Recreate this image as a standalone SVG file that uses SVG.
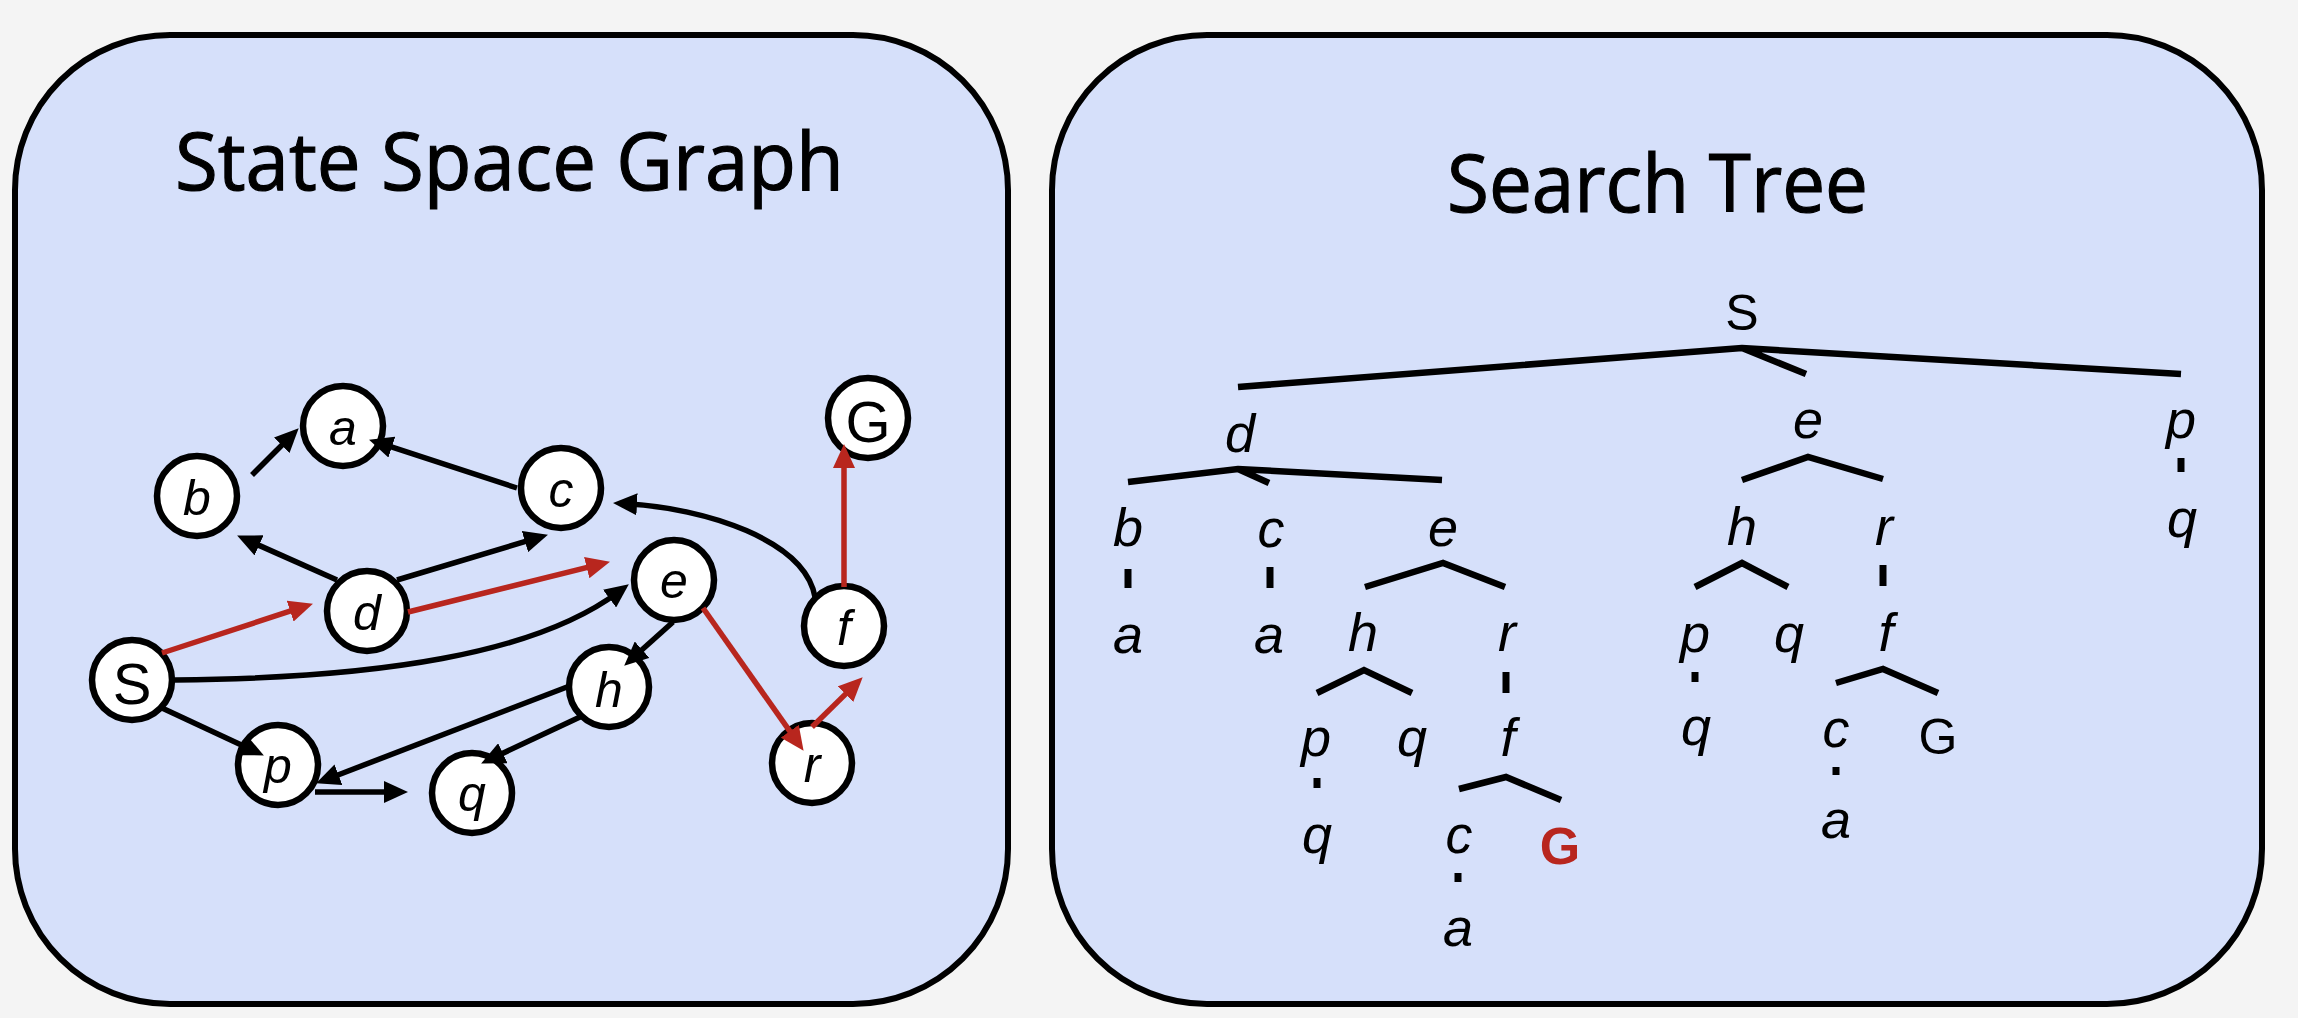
<svg xmlns="http://www.w3.org/2000/svg" width="2298" height="1018" viewBox="0 0 2298 1018">
<style>
.panel{fill:#D6E0FA;stroke:#000;stroke-width:6}
.title{font-family:"Open Sans","Liberation Sans",sans-serif;font-size:80px;fill:#000;stroke:#000;stroke-width:1.2}
.node circle{fill:#fff;stroke:#000;stroke-width:6.5}
.lbl{font-family:"Liberation Sans",Arial,sans-serif;font-style:italic;font-size:50px;text-anchor:middle;fill:#000}
.cap{font-family:"Liberation Sans",Arial,sans-serif;font-size:58px;text-anchor:middle;fill:#000}
.edge{fill:none;stroke:#000;stroke-width:5.5}
.red{stroke:#B8261E}
.t{font-family:"Liberation Sans",Arial,sans-serif;font-style:italic;font-size:54px;text-anchor:middle;fill:#000}
.tu{font-family:"Liberation Sans",Arial,sans-serif;font-size:50px;text-anchor:middle;fill:#000}
.tg{font-family:"Liberation Sans",Arial,sans-serif;font-weight:bold;font-size:52px;text-anchor:middle;fill:#B8261E}
.tl{stroke:#000;stroke-width:6.5;fill:none}
.tick{fill:#000}
</style>
<defs>
<marker id="ah" viewBox="0 0 24 22" refX="11" refY="11" markerWidth="24" markerHeight="22" markerUnits="userSpaceOnUse" orient="auto">
<path d="M0,0 L24,11 L0,22 z" fill="#000"/>
</marker>
<marker id="ahr" viewBox="0 0 24 22" refX="11" refY="11" markerWidth="24" markerHeight="22" markerUnits="userSpaceOnUse" orient="auto">
<path d="M0,0 L24,11 L0,22 z" fill="#B8261E"/>
</marker>
</defs>
<rect x="0" y="0" width="2298" height="1018" fill="#F4F4F4"/>
<g id="panel-graph">
<rect class="panel" x="15" y="35" width="993" height="969" rx="155" ry="155"/>
<text class="title" x="175" y="190" textLength="669" lengthAdjust="spacingAndGlyphs">State Space Graph</text>
</g>
<g id="panel-tree">
<rect class="panel" x="1052" y="35" width="1210" height="969" rx="155" ry="155"/>
<text class="title" x="1447" y="212" textLength="421" lengthAdjust="spacingAndGlyphs">Search Tree</text>
</g>
<g id="graph-nodes">
<g id="n-a" class="node"><circle cx="343" cy="426" r="40"/><text class="lbl" x="343" y="445">a</text></g>
<g id="n-b" class="node"><circle cx="197" cy="496" r="40"/><text class="lbl" x="197" y="515">b</text></g>
<g id="n-c" class="node"><circle cx="561" cy="488" r="40"/><text class="lbl" x="561" y="507">c</text></g>
<g id="n-d" class="node"><circle cx="367" cy="611" r="40"/><text class="lbl" x="367" y="630">d</text></g>
<g id="n-e" class="node"><circle cx="674" cy="580" r="40"/><text class="lbl" x="674" y="598">e</text></g>
<g id="n-S" class="node"><circle cx="132" cy="680" r="40"/><text class="cap" x="132" y="704">S</text></g>
<g id="n-h" class="node"><circle cx="609" cy="687" r="40"/><text class="lbl" x="609" y="707">h</text></g>
<g id="n-p" class="node"><circle cx="278" cy="765" r="40"/><text class="lbl" x="278" y="783">p</text></g>
<g id="n-q" class="node"><circle cx="472" cy="793" r="40"/><text class="lbl" x="472" y="811">q</text></g>
<g id="n-r" class="node"><circle cx="812" cy="763" r="40"/><text class="lbl" x="812" y="782">r</text></g>
<g id="n-f" class="node"><circle cx="844" cy="626" r="40"/><text class="lbl" x="844" y="645">f</text></g>
<g id="n-G" class="node"><circle cx="868" cy="418" r="40"/><text class="cap" x="868" y="442">G</text></g>
</g>
<g id="graph-edges">
<line class="edge" x1="252" y1="475" x2="289.5" y2="437.5" marker-end="url(#ah)"/>
<line class="edge" x1="517" y1="488" x2="381.4" y2="443.7" marker-end="url(#ah)"/>
<line class="edge" x1="337" y1="580" x2="249" y2="540.9" marker-end="url(#ah)"/>
<line class="edge" x1="397" y1="580" x2="535.5" y2="538.4" marker-end="url(#ah)"/>
<line class="edge red" x1="162" y1="653" x2="300.6" y2="607.7" marker-end="url(#ahr)"/>
<line class="edge red" x1="408" y1="612" x2="597.4" y2="564.9" marker-end="url(#ahr)"/>
<line class="edge" x1="162" y1="708" x2="252.1" y2="749.9" marker-end="url(#ah)"/>
<line class="edge" x1="315" y1="792" x2="395" y2="792" marker-end="url(#ah)"/>
<line class="edge" x1="567" y1="687" x2="328.2" y2="778.7" marker-end="url(#ah)"/>
<line class="edge" x1="580" y1="717" x2="492.9" y2="757.9" marker-end="url(#ah)"/>
<line class="edge" x1="673" y1="622" x2="633.9" y2="657" marker-end="url(#ah)"/>
<line class="edge red" x1="703" y1="608" x2="796.1" y2="740.2" marker-end="url(#ahr)"/>
<line class="edge red" x1="812" y1="727" x2="853.4" y2="686.4" marker-end="url(#ahr)"/>
<line class="edge red" x1="844" y1="587" x2="844" y2="457" marker-end="url(#ahr)"/>
<path class="edge" d="M175,680 C380,678 535,654 618.4,592.1" marker-end="url(#ah)"/>
<path class="edge" d="M815,597 C805,540 705,508 626,503.7" marker-end="url(#ah)"/>
</g>
<g id="tree-nodes">
<g id="t-S"><text class="tu" x="1742" y="330">S</text></g>
<g id="t-d"><text class="t" x="1240" y="452">d</text></g>
<g id="t-e1"><text class="t" x="1808" y="438">e</text></g>
<g id="t-p1"><text class="t" x="2181" y="438">p</text></g>
<g id="t-q1"><text class="t" x="2182" y="537">q</text></g>
<g id="t-b"><text class="t" x="1128" y="546">b</text></g>
<g id="t-c1"><text class="t" x="1271" y="547">c</text></g>
<g id="t-e2"><text class="t" x="1443" y="546">e</text></g>
<g id="t-a1"><text class="t" x="1128" y="653">a</text></g>
<g id="t-a2"><text class="t" x="1269" y="653">a</text></g>
<g id="t-h1"><text class="t" x="1363" y="651">h</text></g>
<g id="t-r1"><text class="t" x="1507" y="651">r</text></g>
<g id="t-p2"><text class="t" x="1316" y="756">p</text></g>
<g id="t-q2"><text class="t" x="1412" y="756">q</text></g>
<g id="t-q3"><text class="t" x="1317" y="853">q</text></g>
<g id="t-f1"><text class="t" x="1508" y="756">f</text></g>
<g id="t-c2"><text class="t" x="1459" y="853">c</text></g>
<g id="t-G1"><text class="tg" x="1560" y="864">G</text></g>
<g id="t-a3"><text class="t" x="1458" y="946">a</text></g>
<g id="t-h2"><text class="t" x="1742" y="545">h</text></g>
<g id="t-r2"><text class="t" x="1884" y="545">r</text></g>
<g id="t-p3"><text class="t" x="1695" y="652">p</text></g>
<g id="t-q4"><text class="t" x="1789" y="652">q</text></g>
<g id="t-q5"><text class="t" x="1696" y="745">q</text></g>
<g id="t-f2"><text class="t" x="1886" y="651">f</text></g>
<g id="t-c3"><text class="t" x="1836" y="747">c</text></g>
<g id="t-G2"><text class="tu" x="1938" y="754">G</text></g>
<g id="t-a4"><text class="t" x="1836" y="838">a</text></g>
</g>
<g id="tree-edges">
<path class="tl" d="M1238,387 L1742,348 L2181,374 M1742,348 L1806,374"/>
<path class="tl" d="M1128,482 L1238,469 L1442,480 M1238,469 L1269,483"/>
<path class="tl" d="M1365,587 L1443,563 L1505,587"/>
<path class="tl" d="M1317,693 L1364,670 L1412,693"/>
<path class="tl" d="M1459,789 L1506,777 L1561,800"/>
<path class="tl" d="M1742,480 L1808,457 L1883,479"/>
<path class="tl" d="M1695,587 L1742,563 L1788,587"/>
<path class="tl" d="M1836,683 L1883,669 L1938,693"/>
<rect class="tick" x="1124.5" y="569" width="7" height="19"/>
<rect class="tick" x="1266.5" y="567" width="7" height="21"/>
<rect class="tick" x="1502.5" y="672" width="7" height="21"/>
<rect class="tick" x="1313.5" y="778" width="7" height="10"/>
<rect class="tick" x="1454.5" y="873" width="7" height="9"/>
<rect class="tick" x="1879.5" y="565" width="7" height="21"/>
<rect class="tick" x="1691.5" y="672" width="7" height="10"/>
<rect class="tick" x="1832.5" y="767" width="7" height="8"/>
<rect class="tick" x="2177.5" y="458" width="7" height="14"/>
</g>
</svg>
